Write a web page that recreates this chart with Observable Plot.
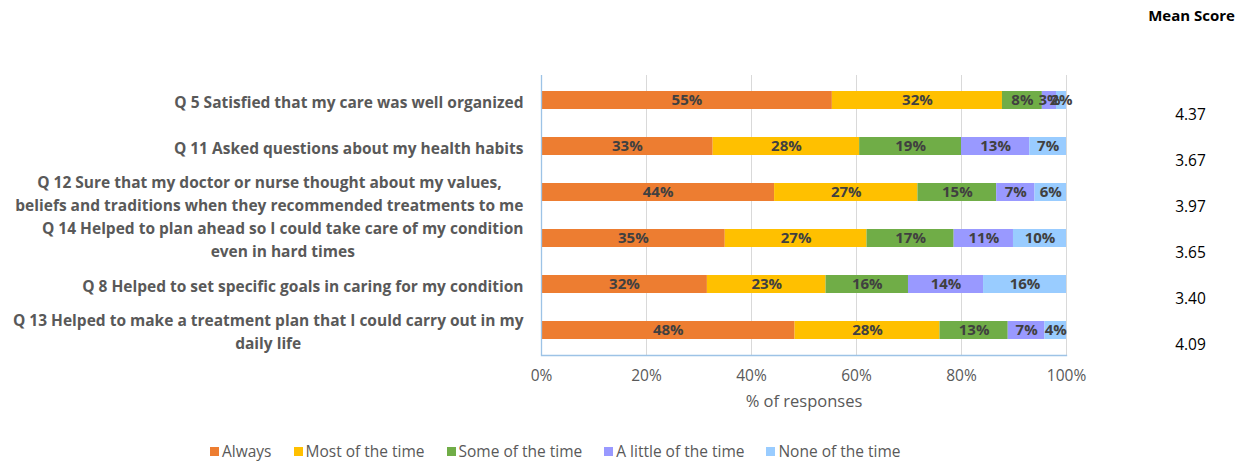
<!DOCTYPE html>
<html><head><meta charset="utf-8">
<script src="https://cdn.jsdelivr.net/npm/d3@7"></script>
<script src="https://cdn.jsdelivr.net/npm/@observablehq/plot@0.6"></script>
<style>
body{margin:0;background:#fff;font-family:"Open Sans","Noto Sans",sans-serif}
#legend{display:flex;align-items:center;height:30px;padding-left:210px;font-size:15.5px;color:#595959}
#legend .item{display:flex;align-items:center;margin-right:22px}
#legend .sw{width:9px;height:9px;margin-right:3px}
</style></head><body>
<div id="chart"></div>
<div id="legend"></div>
<script>
const questions = [
  "Q 5 Satisfied that my care was well organized",
  "Q 11 Asked questions about my health habits",
  "Q 12 Sure that my doctor or nurse thought about my values,\nbeliefs and traditions when they recommended treatments to me",
  "Q 14 Helped to plan ahead so I could take care of my condition\neven in hard times",
  "Q 8 Helped to set specific goals in caring for my condition",
  "Q 13 Helped to make a treatment plan that I could carry out in my\ndaily life"
];
const categories = ["Always","Most of the time","Some of the time","A little of the time","None of the time"];
const colors = ["#ED7D31","#FFC000","#70AD47","#9999FF","#99CCFF"];
const always = [55.4, 32.7, 44.4, 35.0, 31.6, 48.3];
const most   = [32.4, 27.9, 27.3, 27.0, 22.6, 27.6];
const some   = [7.6, 19.4, 15.0, 16.6, 15.7, 13.0];
const little = [2.7, 13.0, 7.3, 11.3, 14.3, 7.0];
const none   = [1.9, 7.0, 6.0, 10.1, 15.8, 4.1];
const meanScores = [4.37, 3.67, 3.97, 3.65, 3.40, 4.09];
const xTicks = [0, 20, 40, 60, 80, 100];

const series = [always, most, some, little, none];
const data = [];
questions.forEach((q, i) => {
  categories.forEach((c, j) => data.push({question: q, category: c, value: series[j][i]}));
});
const means = questions.map((q, i) => ({question: q, score: meanScores[i]}));

const chart = Plot.plot({
  width: 1247,
  height: 436,
  marginLeft: 541,
  marginRight: 181,
  marginTop: 75,
  marginBottom: 81,
  style: {fontFamily: "'Open Sans', 'Noto Sans', sans-serif", background: "#fff"},
  x: {domain: [0, 100]},
  y: {domain: questions, paddingInner: 0.61, paddingOuter: 0.305},
  color: {domain: categories, range: colors},
  marks: [
    Plot.gridX(xTicks, {stroke: "#d9d9d9", strokeOpacity: 1}),
    Plot.barX(data, Plot.stackX({x: "value", y: "question", z: "category", fill: "category", order: categories})),
    Plot.text(data, Plot.stackX({x: "value", y: "question", z: "category", order: categories,
      text: d => Math.round(d.value) + "%", fill: "#404040", fontWeight: "bold", fontSize: 15})),
    Plot.ruleX([0], {stroke: "#9dc3e6", strokeWidth: 1.3}),
    Plot.frame({anchor: "bottom", stroke: "#9dc3e6", strokeWidth: 1.3}),
    Plot.axisX(xTicks, {tickSize: 0, tickPadding: 14, tickFormat: d => d + "%", fontSize: 15.5, fill: "#595959", label: null}),
    Plot.axisY({tickSize: 0, tickPadding: 18, fontSize: 15.5, fontWeight: "bold", fill: "#595959", lineHeight: 1.48, label: null}),
    Plot.text(["% of responses"], {frameAnchor: "bottom", dy: 51, fontSize: 16.5, fill: "#595959"}),
    Plot.text(["Mean Score"], {frameAnchor: "top-right", textAnchor: "middle", lineAnchor: "middle", dx: 125, dy: -59, fontSize: 15, fontWeight: "bold", fill: "#000"}),
    Plot.text(means, {y: "question", frameAnchor: "right", textAnchor: "middle", dx: 124, dy: 15, text: d => d.score.toFixed(2), fontSize: 15.5, fill: "#000"})
  ]
});
document.getElementById("chart").appendChild(chart);

// center multi-line y tick labels on their longest line (right-aligned block)
d3.select(chart).selectAll('g[aria-label="y-axis tick label"] text').each(function() {
  const spans = Array.from(this.querySelectorAll("tspan"));
  if (spans.length < 2) return;
  const w = spans.map(s => s.getComputedTextLength());
  const m = Math.max(...w);
  spans.forEach((s, i) => s.setAttribute("x", -(m - w[i]) / 2));
});

const legend = d3.select("#legend");
categories.forEach((c, i) => {
  const it = legend.append("div").attr("class", "item");
  it.append("div").attr("class", "sw").style("background", colors[i]);
  it.append("span").text(c);
});
</script>
</body></html>
